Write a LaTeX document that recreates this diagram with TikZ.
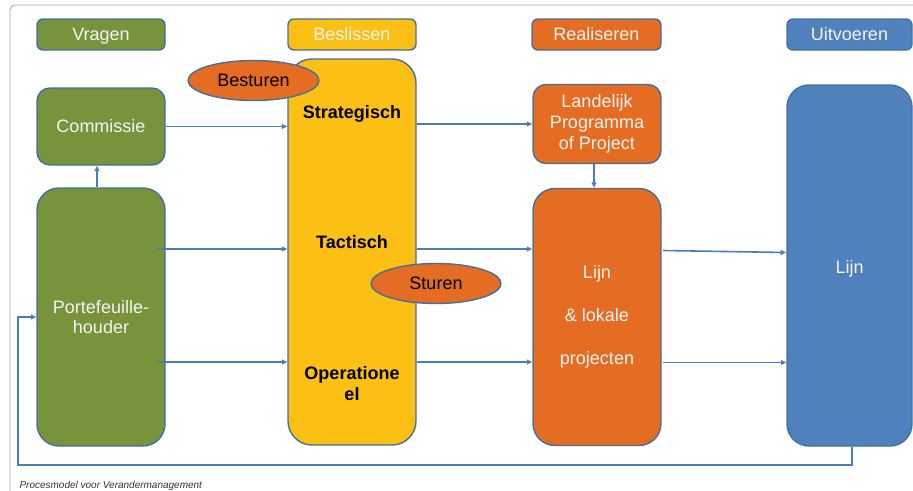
\documentclass[tikz,border=0pt]{standalone}
\usepackage{fontspec}
\setmainfont{Liberation Sans}
\usetikzlibrary{arrows.meta,shapes.geometric,calc}
\definecolor{cgreen}{HTML}{77933C}
\definecolor{cyellow}{HTML}{FCBF14}
\definecolor{corange}{HTML}{E46C23}
\definecolor{cblue}{HTML}{4F81BD}
\definecolor{cborder}{HTML}{41719C}
\definecolor{cline}{HTML}{4A7EBB}
\definecolor{cframe}{HTML}{A6A6A6}
\definecolor{ctext}{HTML}{F4F4F4}
\begin{document}
\begin{tikzpicture}[x=1pt,y=-1pt,
  box/.style={draw=cborder,line width=1.4pt,align=center,inner sep=0pt,
    font=\fontsize{18}{21}\selectfont},
  hdr/.style={box,rounded corners=6pt,minimum height=31pt,text=ctext,
    text height=12.9pt,text depth=0pt},
  oval/.style={ellipse,draw=cborder,line width=1.4pt,fill=corange,inner sep=0pt,
    font=\fontsize{18}{21}\selectfont,text=black},
  lbl/.style={align=center,font=\fontsize{18}{21}\selectfont\bfseries,text=black},
  arr/.style={draw=cline,line width=1.6pt,-{Triangle[length=5.5pt,width=5pt]}}
]
\useasboundingbox (0,0) rectangle (913,490);
% frame
\draw[cframe,line width=0.8pt,rounded corners=5pt] (10,500) -- (10,5) -- (930,5);
% headers
\node[hdr,fill=cgreen,minimum width=128pt] (h1) at (101,34.5) {Vragen};
\node[hdr,fill=cyellow,minimum width=128pt] (h2) at (352,34.5) {Beslissen};
\node[hdr,fill=corange,minimum width=129pt] (h3) at (596.5,34.5) {Realiseren};
\node[hdr,fill=cblue,minimum width=125pt] (h4) at (849.5,34.5) {Uitvoeren};
% boxes
\node[box,fill=cgreen,text=ctext,rounded corners=13pt,minimum width=128pt,minimum height=77pt] (comm) at (101,126.5) {Commissie};
\node[box,fill=cgreen,text=ctext,rounded corners=22pt,minimum width=128pt,minimum height=258pt,font=\fontsize{18}{20}\selectfont] (port) at (101,317) {Portefeuille-\\houder};
\node[box,fill=cyellow,rounded corners=24pt,minimum width=128pt,minimum height=386pt] (besl) at (352,252) {};
\node[box,fill=corange,text=ctext,rounded corners=13pt,minimum width=128pt,minimum height=79pt] (land) at (597,124) {Landelijk\\Programma\\of Project};
\node[box,fill=corange,text=ctext,rounded corners=22pt,minimum width=128pt,minimum height=257pt] (lok) at (597,317) {Lijn\\[22pt]\& lokale\\[22pt]projecten};
\node[box,fill=cblue,text=ctext,rounded corners=22pt,minimum width=125pt,minimum height=361pt,text height=15pt,text depth=-1pt] (lijn) at (849.5,265.5) {Lijn};
% labels in Beslissen
\node[lbl] (strat) at (352,113.5) {Strategisch};
\node[lbl] (tact) at (352,242.5) {Tactisch};
\node[lbl] (oper) at (352,384) {Operatione\\el};
% ellipses
\node[oval,minimum width=131pt,minimum height=40pt] (best) at (253.5,80.5) {Besturen};
\node[oval,minimum width=130pt,minimum height=40pt] (stur) at (436,283.5) {Sturen};
% coordinates
\coordinate (p1) at (157,249);
\coordinate (p2) at (157,362);
\coordinate (q1) at (663,250.5);
\coordinate (q1e) at (786,252.5);
\coordinate (q2) at (663,362.5);
\coordinate (f1) at (18,465);
% arrows
\draw[arr] (comm.east) -- (comm.east -| besl.west);
\draw[arr] ([xshift=-4pt]port.north) -- ([xshift=-4pt]comm.south);
\draw[arr] (p1) -- (p1 -| besl.west);
\draw[arr] (p2) -- (p2 -| besl.west);
\draw[arr] (besl.east |- land.west) -- (land.west);
\draw[arr] (besl.east |- p1) -- (lok.west |- p1);
\draw[arr] (besl.east |- p2) -- (lok.west |- p2);
\draw[arr] ([xshift=-3pt]land.south) -- ([xshift=-3pt]lok.north);
\draw[arr] (q1) -- (q1e);
\draw[arr] (q2) -- (q2 -| lijn.west);
\draw[arr] ([xshift=2.5pt]lijn.south) |- (f1) |- (port.west);
% caption
\node[anchor=base west,font=\fontsize{10}{12}\selectfont\itshape,text=black!80] (cap) at (16,488.5) {Procesmodel voor Verandermanagement};
\end{tikzpicture}
\end{document}
